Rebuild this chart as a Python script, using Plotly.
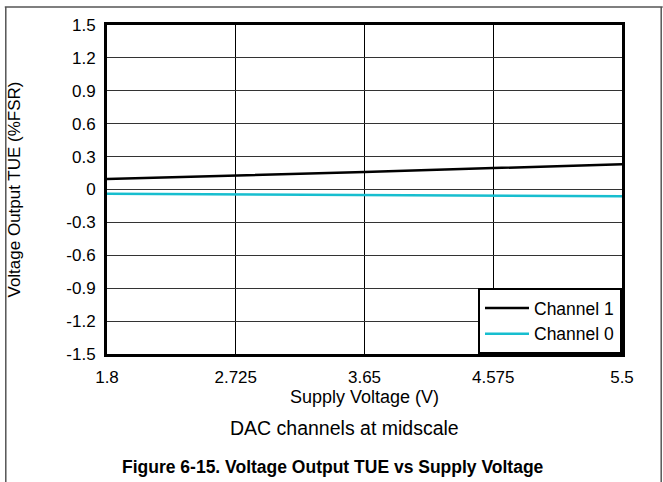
import plotly.graph_objects as go

supply_v = [1.8, 2.725, 3.65, 4.575, 5.5]
ch1_tue = [0.095, 0.125, 0.16, 0.195, 0.23]
ch0_tue = [-0.038, -0.045, -0.05, -0.055, -0.062]
x_ticks = [1.8, 2.725, 3.65, 4.575, 5.5]
y_ticks = [1.5, 1.2, 0.9, 0.6, 0.3, 0, -0.3, -0.6, -0.9, -1.2, -1.5]
y_labels = ["1.5", "1.2", "0.9", "0.6", "0.3", "0", "-0.3", "-0.6", "-0.9", "-1.2", "-1.5"]

FONT = "Liberation Sans, Arial, sans-serif"

fig = go.Figure()
fig.add_trace(go.Scatter(x=supply_v, y=ch1_tue, mode="lines", name="Channel 1",
                         line=dict(color="#000000", width=2.5)))
fig.add_trace(go.Scatter(x=supply_v, y=ch0_tue, mode="lines", name="Channel 0",
                         line=dict(color="#17BECF", width=2.5)))

W, H = 663, 482
L, R, T, B = 103, 41, 25, 128
pw = W - L - R
ph = H - T - B

def px(xp):
    return (xp - L) / pw

def py(yp):
    return (H - B - yp) / ph

fig.update_layout(
    width=W, height=H,
    margin=dict(l=L, r=R, t=T, b=B),
    paper_bgcolor="white", plot_bgcolor="white",
    font=dict(family=FONT, size=16, color="#000000"),
    showlegend=True,
    legend=dict(x=1, y=0, xanchor="right", yanchor="bottom",
                bordercolor="#000000", borderwidth=2, bgcolor="white",
                font=dict(size=17.5), tracegroupgap=0, itemwidth=44),
    xaxis=dict(range=[1.8, 5.5], tickvals=x_ticks, ticktext=[str(v) for v in x_ticks],
               showgrid=True, gridcolor="#000000", gridwidth=1, zeroline=False,
               showline=True, linecolor="#000000", linewidth=3, mirror=True,
               ticks="", ticklen=0, tickfont=dict(size=17), ticklabelstandoff=6,
               title=dict(text="Supply Voltage (V)", font=dict(size=18), standoff=0)),
    yaxis=dict(range=[-1.5, 1.5], tickvals=y_ticks, ticktext=y_labels,
               showgrid=True, gridcolor="#333333", gridwidth=1, zeroline=False,
               showline=True, linecolor="#000000", linewidth=3, mirror=True,
               ticks="", ticklen=0, tickfont=dict(size=17), ticklabelstandoff=5,
               title=dict(text="Voltage Output TUE (%FSR)", font=dict(size=17), standoff=42)),
    annotations=[
        dict(text="DAC channels at midscale", x=px(342), y=py(428), xref="paper", yref="paper",
             showarrow=False, font=dict(size=19.5), xanchor="center", yanchor="middle"),
        dict(text="<b>Figure 6-15. Voltage Output TUE vs Supply Voltage</b>", x=px(331), y=py(467),
             xref="paper", yref="paper", showarrow=False,
             font=dict(size=17.5),
             xanchor="center", yanchor="middle"),
    ],
    shapes=[
        dict(type="line", xref="paper", yref="paper", x0=px(0), x1=px(663), y0=py(7), y1=py(7),
             line=dict(color="#555555", width=1.5)),
        dict(type="line", xref="paper", yref="paper", x0=px(1), x1=px(1), y0=py(7), y1=py(490),
             line=dict(color="#555555", width=1.5)),
        dict(type="line", xref="paper", yref="paper", x0=px(661.5), x1=px(661.5), y0=py(7), y1=py(490),
             line=dict(color="#555555", width=1.5)),
    ],
)

fig.write_html("out.html", config={"displayModeBar": False},
               post_script="document.body.style.margin='0';document.body.style.overflow='hidden';")
